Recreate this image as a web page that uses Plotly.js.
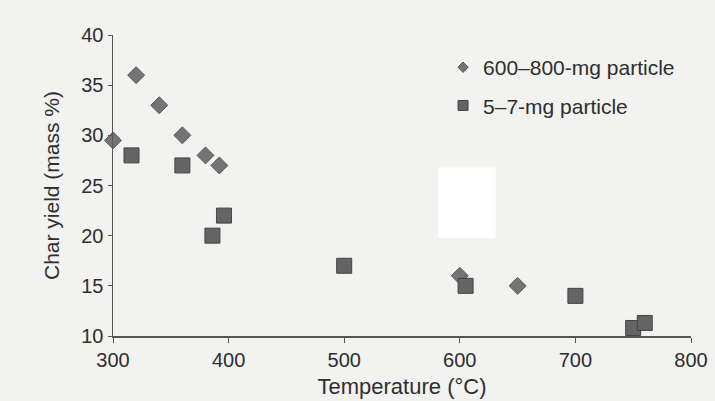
<!DOCTYPE html>
<html>
<head>
<meta charset="utf-8">
<script src="https://cdn.plot.ly/plotly-3.0.1.min.js"></script>
<style>html,body{margin:0;padding:0;background:#f2f2f1;}#chart{width:715px;height:401px;}</style>
</head>
<body>
<div id="chart"></div>
<script>
// Data
const largeTemp = [300, 320, 340, 360, 380, 392, 600, 650];
const largeYield = [29.5, 36, 33, 30, 28, 27, 16, 15];
const smallTemp = [316, 360, 386, 396, 500, 605, 700, 750, 760];
const smallYield = [28, 27, 20, 22, 17, 15, 14, 10.8, 11.3];
const seriesNames = ["600\u2013800-mg particle", "5\u20137-mg particle"];
const xTicks = [300, 400, 500, 600, 700, 800];
const yTicks = [10, 15, 20, 25, 30, 35, 40];

const diamondStyle = {symbol: 'diamond', color: '#747474', line: {color: '#555', width: 1}};
const squareStyle = {symbol: 'square', color: '#646464', line: {color: '#444', width: 1}};

const traces = [
  {
    x: largeTemp, y: largeYield, name: seriesNames[0], type: 'scatter', mode: 'markers',
    showlegend: false, cliponaxis: false,
    marker: Object.assign({size: 13}, diamondStyle)
  },
  {
    x: smallTemp, y: smallYield, name: seriesNames[1], type: 'scatter', mode: 'markers',
    showlegend: false, cliponaxis: false,
    marker: Object.assign({size: 15}, squareStyle)
  },
  // legend entries (smaller symbols, as in the reference key)
  {
    x: [null], y: [null], name: seriesNames[0], type: 'scatter', mode: 'markers',
    legendgroup: 'a', marker: Object.assign({size: 8}, diamondStyle)
  },
  {
    x: [null], y: [null], name: seriesNames[1], type: 'scatter', mode: 'markers',
    legendgroup: 'b', marker: Object.assign({size: 10}, squareStyle)
  }
];

const layout = {
  width: 715, height: 401,
  margin: {l: 113, r: 24, t: 35, b: 65},
  paper_bgcolor: '#f2f2f1', plot_bgcolor: '#f2f2f1',
  font: {family: 'Liberation Sans, Arial, sans-serif', color: '#2e2e2e', size: 20},
  showlegend: true,
  legend: {x: 0.571, y: 0.96, xanchor: 'left', yanchor: 'top', bgcolor: 'rgba(0,0,0,0)',
           font: {size: 21, color: '#2e2e2e'}, itemsizing: 'trace', traceorder: 'grouped',
           tracegroupgap: 8},
  xaxis: {
    range: [300, 800], tickvals: xTicks, ticktext: xTicks.map(String),
    showgrid: false, zeroline: false, showline: true, linecolor: '#555', linewidth: 1.5,
    ticks: 'outside', ticklen: 5, tickcolor: '#555', tickfont: {size: 20},
    title: {text: 'Temperature (\u00B0C)', font: {size: 22, color: '#2e2e2e'}, standoff: 9}
  },
  yaxis: {
    range: [10, 40], tickvals: yTicks, ticktext: yTicks.map(String),
    showgrid: false, zeroline: false, showline: true, linecolor: '#555', linewidth: 1.5,
    ticks: 'outside', ticklen: 4, tickcolor: '#555', tickfont: {size: 20},
    title: {text: 'Char yield (mass %)', font: {size: 21, color: '#2e2e2e'}, standoff: 16}
  },
  shapes: [
    {type: 'rect', xref: 'paper', yref: 'paper', x0: 0.562, x1: 0.662, y0: 0.325, y1: 0.56,
     fillcolor: '#ffffff', line: {width: 0}, layer: 'below'}
  ]
};

Plotly.newPlot('chart', traces, layout, {displayModeBar: false, staticPlot: true});
</script>
</body>
</html>
